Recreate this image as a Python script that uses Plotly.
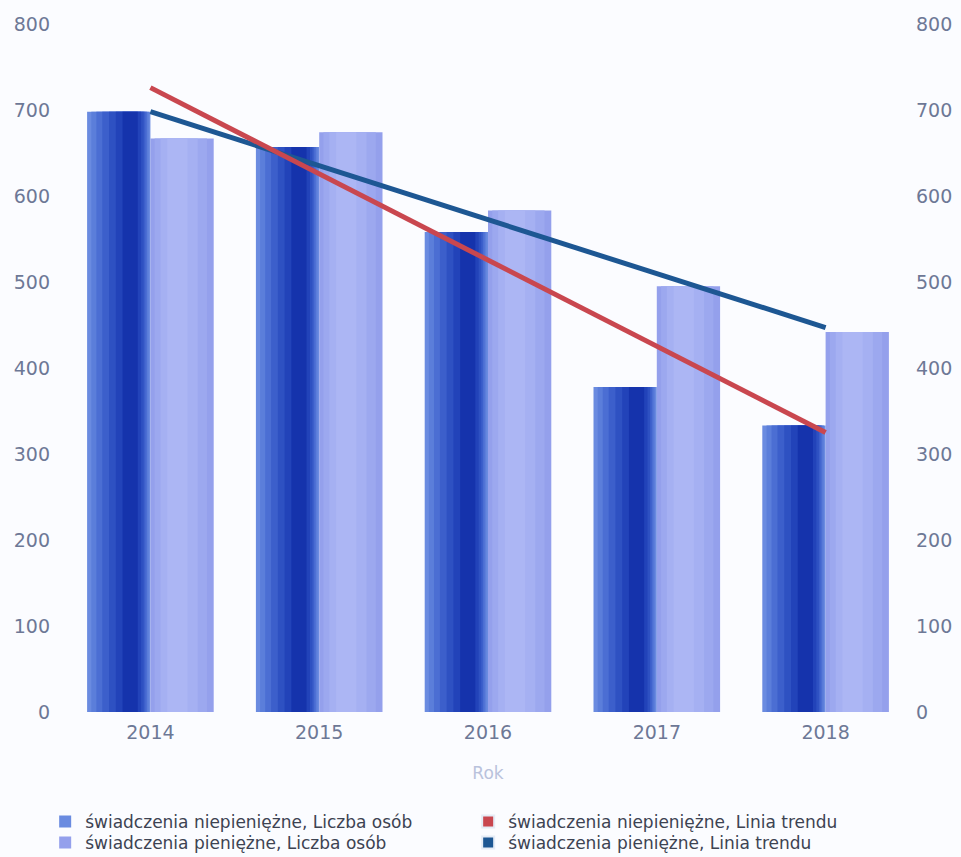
import plotly.graph_objects as go

years = ["2014", "2015", "2016", "2017", "2018"]
niepieniezne = [698, 657, 558, 378, 333]
pieniezne = [667, 674, 583, 495, 442]
trend_years = ["2014", "2018"]
trend_niepieniezne = [726, 325]
trend_pieniezne = [698, 447]
y_ticks = [0, 100, 200, 300, 400, 500, 600, 700, 800]

name_dark = "świadczenia niepieniężne, Liczba osób"
name_light = "świadczenia pieniężne, Liczba osób"
name_red = "świadczenia niepieniężne, Linia trendu"
name_blue = "świadczenia pieniężne, Linia trendu"

RED = "#c9474f"
BLUE_LINE = "#1d5793"
FONT = "DejaVu Sans, Open Sans, Arial, sans-serif"

fig = go.Figure()

# dark bars: gradient layers (offset, width, color)
dark_layers = [
    (-0.375, 0.375, "#6a8be0"),
    (-0.35, 0.34, "#5b7eda"),
    (-0.32, 0.30, "#4b6ed3"),
    (-0.285, 0.255, "#3c5fcb"),
    (-0.245, 0.205, "#2e51c2"),
    (-0.205, 0.15, "#2243b9"),
    (-0.165, 0.09, "#1533ac"),
]
for i, (off, w, c) in enumerate(dark_layers):
    fig.add_trace(go.Bar(
        x=years, y=niepieniezne, offset=off, width=w,
        marker=dict(color=c, line=dict(width=0)),
        name=name_dark, showlegend=(i == 0), legend="legend",
        hoverinfo="skip" if i else None,
    ))

light_layers = [
    (0.0, 0.375, "#94a0ec"),
    (0.025, 0.31, "#9ca8ef"),
    (0.06, 0.22, "#a5b0f2"),
    (0.10, 0.12, "#acb6f4"),
]
for i, (off, w, c) in enumerate(light_layers):
    fig.add_trace(go.Bar(
        x=years, y=pieniezne, offset=off, width=w,
        marker=dict(color=c, line=dict(width=0)),
        name=name_light, showlegend=(i == 0), legend="legend2",
        hoverinfo="skip" if i else None,
    ))

# legend-only square markers for trend lines
fig.add_trace(go.Bar(x=years, y=[None] * len(years), name=name_red,
                     marker=dict(color=RED), legend="legend"))
fig.add_trace(go.Bar(x=years, y=[None] * len(years), name=name_blue,
                     marker=dict(color=BLUE_LINE), legend="legend2"))

fig.add_trace(go.Scatter(x=trend_years, y=trend_pieniezne, mode="lines",
                         line=dict(color=BLUE_LINE, width=5), yaxis="y2",
                         showlegend=False, name=name_blue))
fig.add_trace(go.Scatter(x=trend_years, y=trend_niepieniezne, mode="lines",
                         line=dict(color=RED, width=5), yaxis="y2",
                         showlegend=False, name=name_red))

tickfont = dict(family=FONT, size=19, color="#6d7896")
legend_common = dict(orientation="h", xref="container", yref="container",
                     x=0.047, xanchor="left", yanchor="middle",
                     entrywidth=378, entrywidthmode="pixels", traceorder="normal",
                     font=dict(family=FONT, size=17, color="#3d4352"),
                     bgcolor="rgba(0,0,0,0)", itemsizing="constant")

fig.update_layout(
    width=961, height=857,
    margin=dict(l=66, r=51, t=24, b=145, autoexpand=False),
    paper_bgcolor="#fbfcff", plot_bgcolor="#fbfcff",
    barmode="overlay",
    font=dict(family=FONT),
    xaxis=dict(type="category", categoryorder="array", categoryarray=years,
               showgrid=False, zeroline=False, showline=False, ticks="",
               tickfont=tickfont, automargin=False, ticklabelstandoff=7,
               title=dict(text="Rok", font=dict(family=FONT, size=17, color="#b9c2dc"), standoff=25)),
    yaxis=dict(range=[0, 800], tickvals=y_ticks, showgrid=False, zeroline=False,
               showline=False, ticks="", tickfont=tickfont, ticklabelstandoff=15,
               automargin=False),
    yaxis2=dict(range=[0, 800], tickvals=y_ticks, overlaying="y", side="right",
                showgrid=False, zeroline=False, showline=False, ticks="",
                tickfont=tickfont, ticklabelstandoff=5, automargin=False),
    legend=dict(legend_common, y=1 - 822 / 857),
    legend2=dict(legend_common, y=1 - 843 / 857),
    showlegend=True,
)

fig.write_html("out.html", post_script="document.body.style.margin='0';",
               config={"displayModeBar": False})
